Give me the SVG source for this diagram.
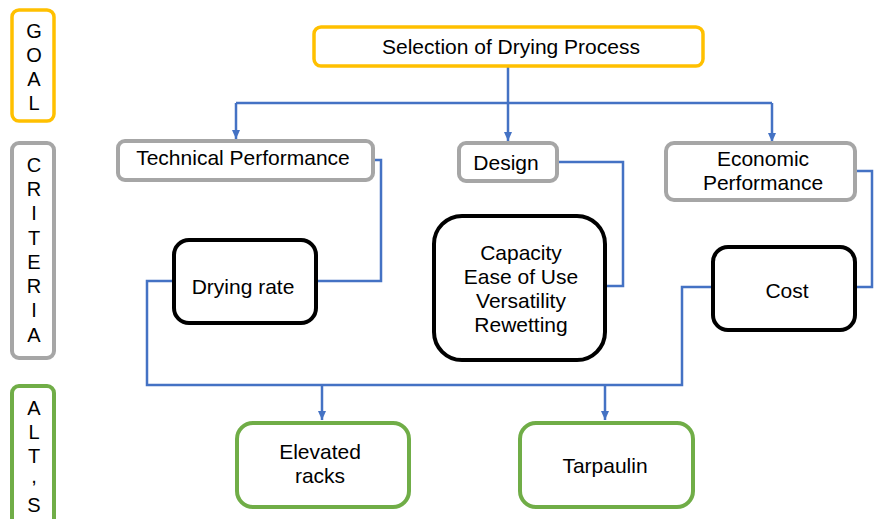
<svg xmlns="http://www.w3.org/2000/svg" width="877" height="519" viewBox="0 0 877 519">
<style>
text{font-family:"Liberation Sans",Arial,sans-serif;fill:#000;text-anchor:middle}
.t{font-size:21px}
.side{font-size:20px}
.gold{fill:#fff;stroke:#FFC000;stroke-width:3.5}
.gray{fill:#fff;stroke:#A6A6A6;stroke-width:4}
.blk{fill:#fff;stroke:#000;stroke-width:4}
.grn{fill:#fff;stroke:#70AD47;stroke-width:4}
.c{fill:none;stroke:#4472C4;stroke-width:2.5}
</style>
<defs>
<marker id="ah" viewBox="0 0 9 8" refX="9" refY="4" markerWidth="9" markerHeight="8" markerUnits="userSpaceOnUse" orient="auto">
<path d="M0,0 L9,4 L0,8 Z" fill="#4472C4"/>
</marker>
</defs>
<rect width="877" height="519" fill="#fff"/>
<g id="label-goal">
<rect class="gold" x="12" y="10" width="42" height="111" rx="7"/>
<text class="side" x="34" y="38">G</text>
<text class="side" x="34" y="62">O</text>
<text class="side" x="34" y="86">A</text>
<text class="side" x="34" y="110">L</text>
</g>
<g id="label-criteria">
<rect class="gray" x="12" y="143" width="42" height="215" rx="7"/>
<text class="side" x="34" y="172">C</text>
<text class="side" x="34" y="196">R</text>
<text class="side" x="34" y="220">I</text>
<text class="side" x="34" y="245">T</text>
<text class="side" x="34" y="269">E</text>
<text class="side" x="34" y="293">R</text>
<text class="side" x="34" y="317">I</text>
<text class="side" x="34" y="342">A</text>
</g>
<g id="label-alts">
<rect class="grn" x="12" y="386" width="42" height="140" rx="7"/>
<text class="side" x="34" y="415">A</text>
<text class="side" x="34" y="439">L</text>
<text class="side" x="34" y="463">T</text>
<text class="side" x="34" y="483">,</text>
<text class="side" x="34" y="512">S</text>
</g>
<g id="connectors">
<path class="c" d="M508,67 V103"/>
<path class="c" d="M236,103 H772"/>
<path class="c" d="M236,103 V139" marker-end="url(#ah)"/>
<path class="c" d="M508,103 V141" marker-end="url(#ah)"/>
<path class="c" d="M772,103 V142" marker-end="url(#ah)"/>
<path class="c" d="M373,160 H381 V281 H316"/>
<path class="c" d="M557,162 H623 V286 H605"/>
<path class="c" d="M855,171 H872 V287 H855"/>
<path class="c" d="M173,281 H147 V385 H682 V287 H712"/>
<path class="c" d="M322,385 V420" marker-end="url(#ah)"/>
<path class="c" d="M605,385 V420" marker-end="url(#ah)"/>
</g>
<g id="goal">
<rect class="gold" x="314" y="27" width="389" height="39" rx="7"/>
<text class="t" x="511" y="54">Selection of Drying Process</text>
</g>
<g id="technical-performance">
<rect class="gray" x="118" y="141" width="255" height="39" rx="7"/>
<text class="t" x="243" y="165">Technical Performance</text>
</g>
<g id="design">
<rect class="gray" x="459" y="143" width="98" height="38" rx="7"/>
<text class="t" x="506" y="170">Design</text>
</g>
<g id="economic-performance">
<rect class="gray" x="666" y="143" width="189" height="57" rx="8"/>
<text class="t" x="763" y="166">Economic</text>
<text class="t" x="763" y="190">Performance</text>
</g>
<g id="drying-rate">
<rect class="blk" x="174" y="240" width="142" height="83" rx="15"/>
<text class="t" x="243" y="294">Drying rate</text>
</g>
<g id="design-criteria">
<rect class="blk" x="434" y="216" width="171" height="144" rx="28"/>
<text class="t" x="521" y="260">Capacity</text>
<text class="t" x="521" y="284">Ease of Use</text>
<text class="t" x="521" y="308">Versatility</text>
<text class="t" x="521" y="332">Rewetting</text>
</g>
<g id="cost">
<rect class="blk" x="713" y="247" width="142" height="83" rx="15"/>
<text class="t" x="787" y="298">Cost</text>
</g>
<g id="elevated-racks">
<rect class="grn" x="237" y="423" width="172" height="84" rx="16"/>
<text class="t" x="320" y="459">Elevated</text>
<text class="t" x="320" y="483">racks</text>
</g>
<g id="tarpaulin">
<rect class="grn" x="520" y="423" width="173" height="84" rx="16"/>
<text class="t" x="605" y="473">Tarpaulin</text>
</g>
</svg>
